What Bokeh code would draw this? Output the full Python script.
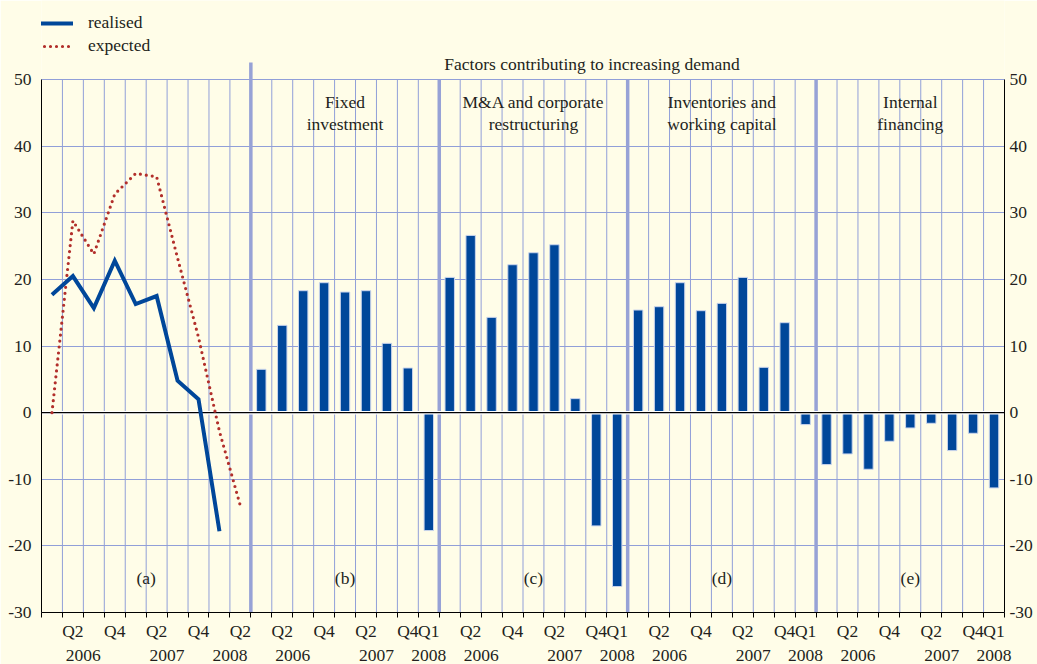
from bokeh.plotting import figure
from bokeh.models import Range1d, LinearAxis, FixedTicker, Legend, LegendItem
from bokeh.embed import file_html
from bokeh.resources import INLINE
from bokeh.core.properties import value

# ---------------- data ----------------
panel_a_quarters = ["Q1", "Q2", "Q3", "Q4", "Q1", "Q2", "Q3", "Q4", "Q1", "Q2"]
panel_a_years = [2006, 2006, 2006, 2006, 2007, 2007, 2007, 2007, 2008, 2008]
panel_a_ticklabels = ["", "Q2", "", "Q4", "", "Q2", "", "Q4", "", "Q2"]

bar_quarters = ["Q1", "Q2", "Q3", "Q4", "Q1", "Q2", "Q3", "Q4", "Q1"]
bar_years = [2006, 2006, 2006, 2006, 2007, 2007, 2007, 2007, 2008]
bar_ticklabels = ["", "Q2", "", "Q4", "", "Q2", "", "Q4", "Q1"]

realised = [17.7, 20.5, 15.7, 22.8, 16.3, 17.5, 4.8, 2.0, -17.8]
expected = [0.0, 28.8, 23.8, 32.8, 35.9, 35.4, 23.2, 11.3, -2.8, -14.0]

fixed_investment = [6.5, 13.1, 18.3, 19.5, 18.1, 18.3, 10.4, 6.7, -17.7]
ma_restructuring = [20.3, 26.6, 14.3, 22.2, 24.0, 25.2, 2.1, -17.0, -26.1]
inventories_wc = [15.4, 15.9, 19.5, 15.3, 16.4, 20.3, 6.8, 13.5, -1.8]
internal_financing = [-7.8, -6.2, -8.5, -4.3, -2.3, -1.6, -5.7, -3.1, -11.3]

bar_series = [fixed_investment, ma_restructuring, inventories_wc, internal_financing]
panel_headers = ["Fixed\ninvestment", "M&A and corporate\nrestructuring",
                 "Inventories and\nworking capital", "Internal\nfinancing"]
panel_letters = ["(a)", "(b)", "(c)", "(d)", "(e)"]
group_title = "Factors contributing to increasing demand"
y_ticks = [-30, -20, -10, 0, 10, 20, 30, 40, 50]
legend_labels = ["realised", "expected"]

# ---------------- styling ----------------
BG = "#FFFDE8"
BLUE = "#00479A"
RED = "#B22F2B"
GRID = "#919FD8"
SEP = "#97A2D6"
TXT = "#231F20"
FONT = "Liberation Serif"
FS = "17.5px"
SLOT = 2  # x units per quarter

panel_sizes = [len(panel_a_quarters)] + [len(bar_quarters)] * len(bar_series)
starts = []
s = 0
for n in panel_sizes:
    starts.append(s)
    s += SLOT * n
x_end = s
centers = [starts[i] + SLOT * panel_sizes[i] / 2 for i in range(len(panel_sizes))]

p = figure(width=1037, height=664, x_range=Range1d(0, x_end), y_range=Range1d(-30, 61.86),
           output_backend="svg", toolbar_location=None,
           min_border_left=41, min_border_right=33, min_border_top=0, min_border_bottom=52,
           background_fill_color=BG, border_fill_color=BG, outline_line_color=None)

# grid
p.xgrid.visible = False
p.ygrid.ticker = FixedTicker(ticks=[t for t in y_ticks if t > -30])
p.ygrid.grid_line_color = GRID
p.ygrid.grid_line_width = 1

bounds = list(range(0, x_end + 1, SLOT))
p.segment(x0=bounds, y0=-30, x1=bounds, y1=50, line_color=GRID, line_width=1)
p.segment(x0=starts[1:2], y0=-30, x1=starts[1:2], y1=52.55, line_color=SEP, line_width=3.5)
p.segment(x0=starts[2:], y0=-30, x1=starts[2:], y1=50, line_color=SEP, line_width=3.5)

# bars
for k, vals in enumerate(bar_series):
    st = starts[k + 1]
    xs = [st + SLOT * i + SLOT / 2 for i in range(len(vals))]
    p.vbar(x=xs, top=vals, bottom=0, width=0.9, fill_color=BLUE,
           line_color="#C9D4EC", line_width=1)

# zero line
p.segment(x0=[0], y0=[0], x1=[x_end], y1=[0], line_color="white", line_width=3.5)
p.segment(x0=[0], y0=[0], x1=[x_end], y1=[0], line_color="black", line_width=1.3)

# lines
xr = [SLOT * i + SLOT / 2 for i in range(len(realised))]
xe = [SLOT * i + SLOT / 2 for i in range(len(expected))]
r_exp = p.line(xe, expected, line_color=RED, line_width=3.2, line_dash="0 6", line_cap="round")
r_real = p.line(xr, realised, line_color=BLUE, line_width=4, line_join="miter")

# texts
p.text(x=centers[1:], y=[45.0] * len(panel_headers), text=panel_headers,
       text_font=value(FONT), text_font_size=FS, text_color=TXT,
       text_align="center", text_baseline="middle", text_line_height=1.1)
p.text(x=centers, y=[-24.8] * len(panel_letters), text=panel_letters,
       text_font=value(FONT), text_font_size=FS, text_color=TXT,
       text_align="center", text_baseline="middle")
p.text(x=[52.6], y=[52.4], text=[group_title],
       text_font=value(FONT), text_font_size=FS, text_color=TXT,
       text_align="center", text_baseline="middle")

# legend
legend = Legend(items=[LegendItem(label=legend_labels[0], renderers=[r_real]),
                       LegendItem(label=legend_labels[1], renderers=[r_exp])],
                location=(-3, 556), orientation="vertical",
                border_line_color=None, background_fill_alpha=0,
                label_text_font=FONT, label_text_font_size=FS, label_text_color=TXT,
                glyph_width=35, glyph_height=20, label_height=20, spacing=2,
                label_standoff=15, padding=0, margin=0)
p.add_layout(legend)

# y axes
ly = p.yaxis[0]
ry = LinearAxis()
p.add_layout(ry, "right")
for ax, so in ((ly, 10), (ry, 5)):
    ax.ticker = FixedTicker(ticks=y_ticks)
    ax.major_label_overrides = {t: str(t) for t in y_ticks}
    ax.bounds = (-30, 50)
    ax.major_tick_out = 0
    ax.major_tick_in = 0
    ax.minor_tick_line_color = None
    ax.axis_line_color = "black"
    ax.axis_label_standoff = 0
    ax.major_label_standoff = so
    ax.major_label_text_font = FONT
    ax.major_label_text_font_size = FS
    ax.major_label_text_color = TXT

# x axes
q_ticks, q_over = [], {}
year_ticks, year_over = [], {}
for k, st in enumerate(starts):
    labs = panel_a_ticklabels if k == 0 else bar_ticklabels
    yrs = panel_a_years if k == 0 else bar_years
    for i, lab in enumerate(labs):
        if lab:
            t = st + SLOT * i + SLOT // 2
            q_ticks.append(t)
            q_over[t] = lab
    i = 0
    while i < len(yrs):
        j = i
        while j + 1 < len(yrs) and yrs[j + 1] == yrs[i]:
            j += 1
        t = st + (i + j + 1) * SLOT // 2
        year_ticks.append(t)
        year_over[t] = str(yrs[i])
        i = j + 1

qax = p.xaxis[0]
qax.ticker = FixedTicker(ticks=q_ticks, minor_ticks=bounds)
qax.major_label_overrides = q_over
qax.major_tick_out = 0
qax.major_tick_in = 0
qax.minor_tick_out = 5
qax.minor_tick_in = 0
qax.minor_tick_line_color = "black"
qax.axis_line_color = "black"
qax.axis_label_standoff = 0
qax.major_label_standoff = 3
qax.major_label_text_font = FONT
qax.major_label_text_font_size = FS
qax.major_label_text_color = TXT

yax = LinearAxis(ticker=FixedTicker(ticks=year_ticks), major_label_overrides=year_over,
                 axis_line_color=None, major_tick_line_color=None, minor_tick_line_color=None,
                 axis_label_standoff=0,
                 major_label_standoff=0, major_label_text_font=FONT,
                 major_label_text_font_size=FS, major_label_text_color=TXT)
p.add_layout(yax, "below")

open("out.html", "w").write(file_html(p, INLINE))
